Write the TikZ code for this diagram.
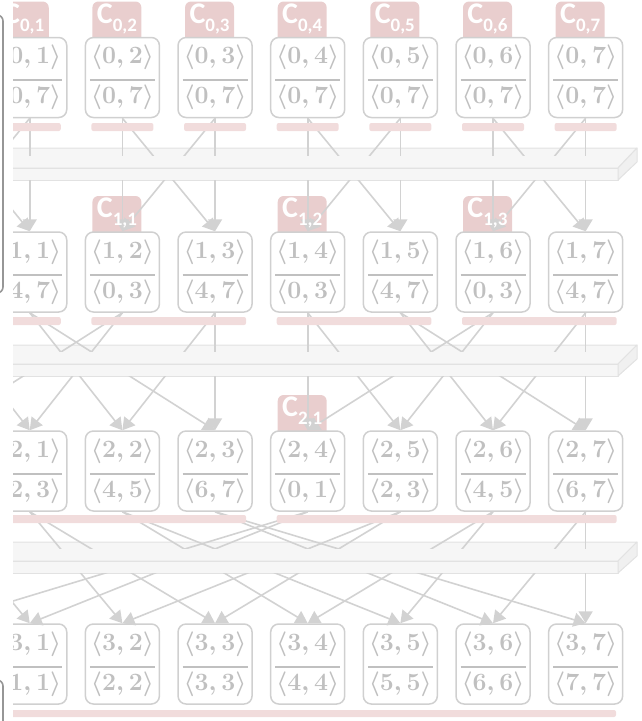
\documentclass[tikz,border=0pt]{standalone}
\usepackage{amsmath}
\usepackage{fontspec}
\newfontfamily\tabfont{Carlito}
\usetikzlibrary{arrows.meta}

\definecolor{cellgray}{RGB}{208,208,208}
\definecolor{textgray}{RGB}{192,192,192}
\definecolor{linkgray}{RGB}{210,210,210}
\definecolor{tabred}{RGB}{233,206,206}
\definecolor{barred}{RGB}{241,220,220}
\definecolor{slabtop}{RGB}{246,246,246}
\definecolor{slabedge}{RGB}{226,226,226}
\definecolor{framegray}{RGB}{150,150,150}

\newcommand{\rangepair}[2]{$\langle #1\rangle$\\$\langle #2\rangle$}
\newcommand{\grouptag}[2]{C\raisebox{-8pt}{\fontsize{19}{19}\selectfont #1,#2}}

\begin{document}
\begin{tikzpicture}[x=1pt, y=-1pt,
    cell/.style={draw=cellgray, fill=white, line width=1.5pt, rounded corners=8pt,
      minimum width=74pt, minimum height=80pt, inner sep=0pt, align=center,
      text=textgray, font=\fontsize{25}{40}\selectfont\boldmath,
      path picture={\draw[textgray, line width=2pt]
        ([xshift=-32.5pt, yshift=-2.5pt]path picture bounding box.center) --
        ([xshift=32.5pt, yshift=-2.5pt]path picture bounding box.center);}},
    tagtext/.style={text=white, inner sep=0pt,
      font=\tabfont\bfseries\fontsize{30}{30}\selectfont},
    link/.style={draw=linkgray, line width=1.6pt},
    linktip/.style={link, -{Triangle[width=14pt, length=12pt]}},
    bar/.style={fill=barred, rounded corners=2pt},
    slab/.style={fill=slabtop, draw=slabedge, line width=1pt, line join=round}]

    \useasboundingbox (0,0) rectangle (641,721);

    \begin{scope}
    \clip (13,0) rectangle (641,721);

    % slabs between the rows
    \foreach \back/\front/\bottom in {148/168/180, 345/364/376, 542/561/573} {
        \draw[slab] (-20,\front) -- (-1,\back) -- (637,\back) -- (618,\front) -- cycle;
        \draw[slab] (-20,\front) rectangle (618,\bottom);
        \draw[slab, fill=slabedge!50] (618,\front) -- (637,\back) -- (637,\back+14) -- (618,\bottom) -- cycle;
    }

    % ports of the hidden column 0
    \foreach \r/\top/\bot in {0/37.5/117.5, 1/232/312, 2/431/511, 3/624/704} {
        \coordinate (in-\r-0) at (-62.9,\top);
        \coordinate (out-\r-0) at (-62.9,\bot);
    }

    % tabs
    \foreach \c in {1,...,7}
        \fill[tabred, rounded corners=6pt] ({-62.9+92.65*\c-30},1.5) rectangle ({-62.9+92.65*\c+19},45);
    \foreach \c in {2,4,6}
        \fill[tabred, rounded corners=6pt] ({-62.9+92.65*\c-30},196) rectangle ({-62.9+92.65*\c+19},240);
    \fill[tabred, rounded corners=6pt] ({-62.9+92.65*4-30},395) rectangle ({-62.9+92.65*4+19},439);

    % rows of cells
    \foreach \c in {1,...,7}
        \node[cell] (n-0-\c) at ({-62.9+92.65*\c},77.5) {\rangepair{0,\c}{0,7}};
    \foreach \c/\lo/\hi in {1/4/7, 2/0/3, 3/4/7, 4/0/3, 5/4/7, 6/0/3, 7/4/7}
        \node[cell] (n-1-\c) at ({-62.9+92.65*\c},272) {\rangepair{1,\c}{\lo,\hi}};
    \foreach \c/\lo/\hi in {1/2/3, 2/4/5, 3/6/7, 4/0/1, 5/2/3, 6/4/5, 7/6/7}
        \node[cell] (n-2-\c) at ({-62.9+92.65*\c},471) {\rangepair{2,\c}{\lo,\hi}};
    \foreach \c in {1,...,7}
        \node[cell] (n-3-\c) at ({-62.9+92.65*\c},664) {\rangepair{3,\c}{\c,\c}};

    % links, cut by the slabs
    \foreach \r/\h/\cut/\emerge in {0/1/155/180, 1/2/351/376, 2/4/548/573} {
        \pgfmathtruncatemacro{\rr}{\r+1}
        \foreach \t in {0,...,7} {
            \pgfmathtruncatemacro{\k}{mod(\t,2*\h)}
            \pgfmathtruncatemacro{\sa}{\t-\k+floor(\k/2)}
            \pgfmathtruncatemacro{\sb}{\sa+\h}
            \foreach \s in {\sa,\sb} {
                \ifnum\s=0 \def\from{out-\r-0}\else\def\from{n-\r-\s.south}\fi
                \ifnum\t=0 \def\to{in-\rr-0}\else\def\to{n-\rr-\t.north}\fi
                \begin{scope}
                    \clip (13,0) rectangle (641,\cut);
                    \draw[link] (\from) -- (\to);
                \end{scope}
                \begin{scope}
                    \clip (13,\emerge) rectangle (641,721);
                    \draw[linktip] (\from) -- (\to);
                \end{scope}
            }
        }
    }

    % bars under the cells
    \foreach \c in {1,...,7}
        \fill[bar] ({-62.9+92.65*\c-31},123) rectangle ({-62.9+92.65*\c+31},131);
    \foreach \b in {0,2,4,6}
        \fill[bar] ({-62.9+92.65*\b-31},317) rectangle ({-62.9+92.65*(\b+1)+31},325);
    \foreach \b in {0,4}
        \fill[bar] ({-62.9+92.65*\b-31},515) rectangle ({-62.9+92.65*(\b+3)+31},523);
    \fill[bar] (-94,710) rectangle (616,717);

    % labels of the tabs
    \foreach \r/\c/\i/\j in {0/1/0/1, 0/2/0/2, 0/3/0/3, 0/4/0/4, 0/5/0/5, 0/6/0/6, 0/7/0/7,
                             1/2/1/1, 1/4/1/2, 1/6/1/3, 2/4/2/1}
        \node[tagtext] (tag-\r-\c) at ([xshift=-5.5pt, yshift=18pt]n-\r-\c.north) {\grouptag{\i}{\j}};
    \end{scope}

    % frames of the neighbouring panel
    \begin{scope}
    \clip (0,0) rectangle (641,721);
    \draw[framegray, line width=1.6pt, rounded corners=6pt] (-40,15) rectangle (3,293);
    \draw[framegray, line width=1.6pt, rounded corners=6pt] (-40,680) rectangle (3,760);
    \end{scope}

\end{tikzpicture}
\end{document}
